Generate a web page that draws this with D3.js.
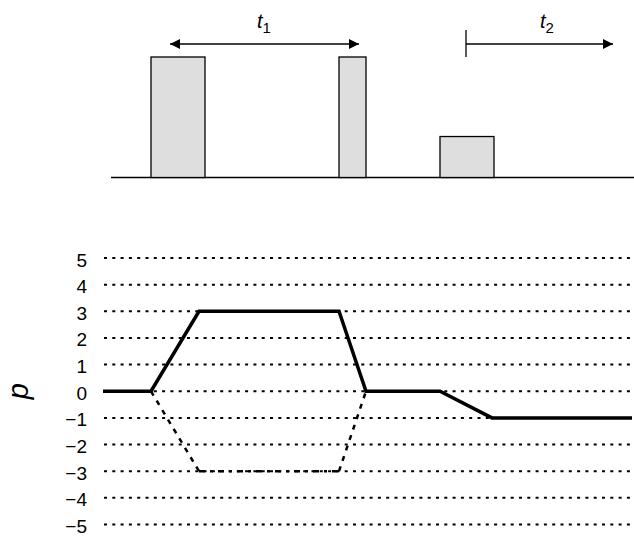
<!DOCTYPE html>
<html><head><meta charset="utf-8">
<script src="https://cdn.jsdelivr.net/npm/d3@7"></script>
<style>body{margin:0;background:#fff}</style>
</head><body>
<script>
// Data
const barStarts = [48, 236, 337];
const barEnds = [102, 263, 391];
const barHeights = [1, 1, 0.34];
const lineTimes = [0, 48, 96, 236, 263, 337, 389, 529];
const lineValues = [0, 0, 3, 3, 0, 0, -1, -1];
const altTimes = [48, 96, 236, 263];
const altValues = [0, -3, -3, 0];
const yTicks = [5, 4, 3, 2, 1, 0, -1, -2, -3, -4, -5];
const t1Span = [67, 256];
const t2Span = [363, 510];

const W = 634, H = 537;
const FONT = "Liberation Sans, Arial, sans-serif";
const svg = d3.select("body").append("svg").attr("width", W).attr("height", H);
const x = d3.scaleLinear().domain([0, 529]).range([103, 632]);
const yTop = d3.scaleLinear().domain([0, 1]).range([177.5, 57]);
const y = d3.scaleLinear().domain([-5, 5]).range([524.5, 258]);

// markers
const defs = svg.append("defs");
defs.append("marker").attr("id", "ah").attr("viewBox", "0 0 10 10").attr("refX", 10).attr("refY", 5)
  .attr("markerWidth", 10).attr("markerHeight", 10).attr("markerUnits", "userSpaceOnUse").attr("orient", "auto-start-reverse")
  .append("path").attr("d", "M0,0L10,5L0,10Z").attr("fill", "#000");

// top panel
svg.append("line").attr("x1", 111).attr("x2", 634).attr("y1", yTop(0)).attr("y2", yTop(0))
  .attr("stroke", "#000").attr("stroke-width", 1.5);
svg.selectAll("rect.bar").data(barStarts).join("rect").attr("class", "bar")
  .attr("x", (d) => x(d)).attr("width", (d, i) => x(barEnds[i]) - x(d))
  .attr("y", (d, i) => yTop(barHeights[i])).attr("height", (d, i) => yTop(0) - yTop(barHeights[i]))
  .attr("fill", "#dedede").attr("stroke", "#000").attr("stroke-width", 1.3);

const ay = 44;
svg.append("line").attr("x1", x(t1Span[0])).attr("x2", x(t1Span[1])).attr("y1", ay).attr("y2", ay)
  .attr("stroke", "#000").attr("stroke-width", 1.3)
  .attr("marker-start", "url(#ah)").attr("marker-end", "url(#ah)");
svg.append("line").attr("x1", x(t2Span[0])).attr("x2", x(t2Span[1])).attr("y1", ay).attr("y2", ay)
  .attr("stroke", "#000").attr("stroke-width", 1.3).attr("marker-end", "url(#ah)");
svg.append("line").attr("x1", x(t2Span[0])).attr("x2", x(t2Span[0])).attr("y1", 30).attr("y2", 57)
  .attr("stroke", "#000").attr("stroke-width", 1.3);

function tLabel(cx, sub) {
  const t = svg.append("text").attr("x", cx).attr("y", 28).attr("text-anchor", "middle")
    .attr("font-family", FONT).style("font-size", "20px");
  t.append("tspan").attr("font-style", "italic").text("t");
  t.append("tspan").style("font-size", "15px").attr("dy", 5).text(sub);
}
tLabel(264, "1");
tLabel(547, "2");

// bottom panel grid
svg.selectAll("line.grid").data(yTicks).join("line").attr("class", "grid")
  .attr("x1", 104).attr("x2", 634).attr("y1", (d) => y(d)).attr("y2", (d) => y(d))
  .attr("stroke", "#000").attr("stroke-width", 2).attr("stroke-dasharray", "3,5.3");
svg.selectAll("text.tick").data(yTicks).join("text").attr("class", "tick")
  .attr("x", 87).attr("y", (d) => y(d) + 8.5).attr("text-anchor", "end")
  .attr("font-family", FONT).style("font-size", "19px")
  .text((d) => d < 0 ? "\u2212" + Math.abs(d) : String(d));

svg.append("text").attr("transform", `translate(28,${y(0)}) rotate(-90)`).attr("text-anchor", "middle")
  .attr("font-family", FONT).style("font-size", "29px").attr("font-style", "italic")
  .text("p");

const line = d3.line().x((d) => x(d[0])).y((d) => y(d[1]));
const alt = altTimes.map((t, i) => [t, altValues[i]]);
svg.append("path").datum([alt[0], alt[1]]).attr("d", line).attr("fill", "none")
  .attr("stroke", "#000").attr("stroke-width", 2.5).attr("stroke-dasharray", "5,6");
svg.append("path").datum([alt[1], alt[2]]).attr("d", line).attr("fill", "none")
  .attr("stroke", "#000").attr("stroke-width", 2.5).attr("stroke-dasharray", "6,5,3,5");
svg.append("path").datum([alt[2], alt[3]]).attr("d", line).attr("fill", "none")
  .attr("stroke", "#000").attr("stroke-width", 2.5).attr("stroke-dasharray", "5,6");

svg.append("path").datum(lineTimes.map((t, i) => [t, lineValues[i]])).attr("d", line)
  .attr("fill", "none").attr("stroke", "#000").attr("stroke-width", 3.5).attr("stroke-linejoin", "miter");
</script>
</body></html>
